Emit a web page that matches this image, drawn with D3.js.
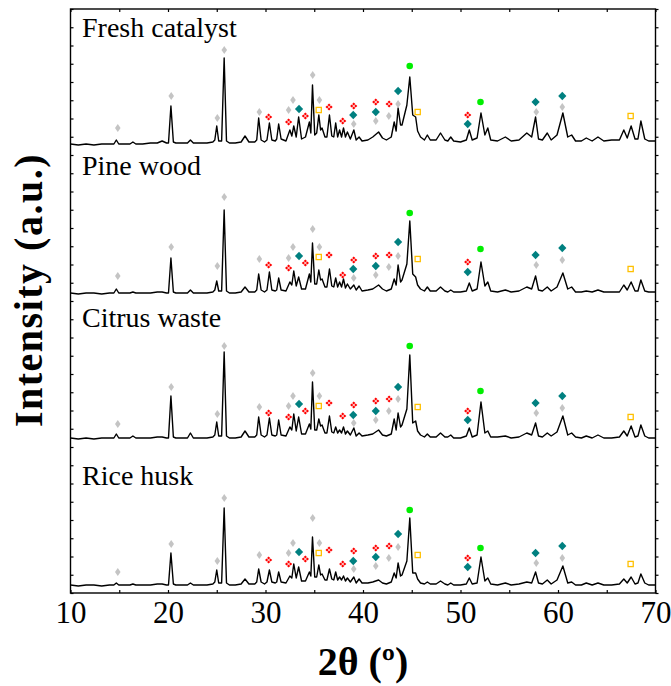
<!DOCTYPE html>
<html>
<head>
<meta charset="utf-8">
<script src="https://cdn.jsdelivr.net/npm/d3@7"></script>
<style>
  body { margin: 0; background: #fff; }
  svg { display: block; font-family: "Liberation Serif", "Times New Roman", serif; }
</style>
</head>
<body>
<svg class="display"></svg>
<script>
// 2θ grid (degrees) shared by the four patterns
const twoTheta = [
  10.0, 10.8, 11.6, 12.4, 13.2, 14.0, 14.45, 14.7, 14.95, 15.6,
  16.1, 16.4, 16.7, 17.4, 18.2, 18.9, 19.4, 19.85, 20.05, 20.3,
  20.55, 20.8, 21.5, 22.0, 22.3, 22.6, 23.3, 24.0, 24.6, 24.8,
  25.0, 25.2, 25.5, 25.76, 26.0, 26.3, 26.9, 27.5, 27.9, 28.3,
  28.9, 29.1, 29.3, 29.55, 29.9, 30.15, 30.4, 30.65, 31.0, 31.15,
  31.35, 31.6, 32.1, 32.5, 32.7, 32.9, 33.15, 33.4, 33.7, 34.1,
  34.5, 34.65, 34.82, 35.05, 35.25, 35.47, 35.65, 35.8, 36.1, 36.3,
  36.56, 36.8, 37.0, 37.2, 37.4, 37.6, 37.8, 38.0, 38.2, 38.4,
  38.7, 39.06, 39.3, 39.6, 39.9, 40.5, 41.0, 41.6, 42.0, 42.4,
  42.9, 43.2, 43.4, 43.6, 43.85, 44.0, 44.5, 44.8, 45.1, 45.4,
  45.6, 45.9, 46.3, 46.6, 46.9, 47.5, 47.95, 48.4, 48.7, 49.0,
  49.3, 50.0, 50.6, 50.9, 51.2, 51.7, 52.1, 52.5, 52.8, 53.1,
  53.8, 54.6, 55.2, 56.0, 56.8, 57.3, 57.7, 58.0, 58.4, 58.9,
  59.3, 59.9, 60.5, 61.0, 61.4, 61.8, 62.4, 62.9, 63.5, 64.1,
  64.7, 65.5, 66.3, 66.75, 67.1, 67.5, 67.9, 68.2, 68.5, 68.9,
  69.3, 70.0
];

const fresh = [
  1, 0, 1, 0, 1, 1, 1, 5, 1, 1,
  1, 3, 1, 1, 2, 2, 4, 2, 2, 39,
  3, 2, 2, 2, 5, 2, 2, 2, 3, 5,
  19, 4, 4, 87, 4, 2, 2, 3, 9, 3,
  3, 5, 27, 5, 3, 5, 22, 5, 4, 6,
  21, 6, 4, 15, 9, 19, 8, 28, 6, 8,
  23, 12, 60, 10, 12, 30, 15, 17, 8, 8,
  30, 9, 8, 22, 8, 15, 8, 17, 8, 13,
  6, 15, 5, 8, 4, 5, 8, 13, 7, 5,
  8, 23, 14, 37, 20, 20, 40, 68, 30, 28,
  14, 8, 5, 10, 5, 5, 12, 5, 4, 8,
  4, 3, 5, 15, 5, 7, 32, 10, 17, 5,
  4, 8, 4, 5, 12, 8, 28, 6, 5, 12,
  5, 10, 32, 8, 10, 4, 4, 7, 4, 8,
  4, 5, 5, 15, 7, 19, 6, 6, 24, 6,
  4, 4
];

const pine = [
  1, 0, 1, 1, 0, 1, 1, 5, 1, 1,
  1, 2, 1, 1, 1, 2, 2, 1, 1, 36,
  2, 1, 1, 1, 4, 1, 1, 1, 2, 4,
  13, 3, 3, 84, 3, 1, 1, 2, 7, 2,
  2, 4, 20, 4, 2, 4, 22, 4, 3, 4,
  16, 4, 3, 12, 9, 23, 8, 17, 5, 5,
  20, 12, 51, 10, 10, 24, 14, 15, 7, 7,
  25, 8, 7, 16, 7, 12, 7, 15, 6, 10,
  5, 9, 4, 8, 3, 4, 5, 9, 5, 3,
  5, 15, 9, 29, 12, 14, 30, 73, 20, 17,
  9, 5, 3, 7, 3, 3, 7, 3, 2, 4,
  2, 2, 3, 11, 3, 5, 32, 8, 12, 3,
  2, 4, 2, 3, 7, 5, 18, 4, 3, 7,
  3, 7, 21, 5, 7, 2, 2, 3, 2, 4,
  2, 2, 2, 9, 4, 12, 3, 3, 14, 3,
  2, 2
];

const citrus = [
  1, 0, 1, 0, 1, 1, 1, 5, 1, 1,
  1, 3, 1, 1, 1, 2, 2, 1, 1, 43,
  2, 1, 1, 1, 6, 1, 1, 1, 2, 4,
  17, 3, 3, 87, 3, 1, 1, 2, 8, 2,
  2, 4, 22, 4, 2, 4, 21, 4, 3, 4,
  19, 4, 3, 12, 9, 25, 8, 22, 5, 5,
  15, 10, 57, 9, 9, 20, 13, 14, 6, 6,
  23, 7, 6, 12, 6, 9, 6, 12, 5, 8,
  4, 11, 3, 6, 3, 4, 5, 9, 4, 3,
  5, 20, 9, 26, 12, 14, 30, 84, 16, 18,
  8, 4, 2, 5, 2, 2, 6, 2, 2, 4,
  1, 1, 3, 11, 2, 4, 37, 6, 8, 2,
  2, 3, 1, 2, 6, 4, 16, 3, 2, 6,
  3, 7, 23, 4, 6, 2, 1, 3, 1, 4,
  1, 1, 2, 8, 3, 13, 2, 3, 14, 3,
  1, 1
];

const rice = [
  1, 0, 1, 1, 0, 1, 1, 3, 1, 1,
  1, 2, 1, 1, 1, 2, 2, 1, 1, 33,
  2, 1, 1, 1, 3, 1, 1, 1, 2, 4,
  16, 3, 3, 78, 3, 1, 1, 2, 7, 2,
  2, 4, 17, 4, 2, 4, 16, 4, 3, 4,
  14, 4, 3, 10, 8, 22, 8, 19, 5, 5,
  14, 10, 49, 9, 9, 21, 11, 12, 6, 6,
  17, 7, 6, 14, 6, 9, 6, 10, 5, 8,
  4, 9, 3, 7, 3, 3, 4, 6, 3, 2,
  4, 13, 8, 23, 10, 11, 25, 68, 13, 13,
  7, 3, 2, 4, 2, 2, 5, 2, 1, 3,
  1, 1, 2, 8, 2, 3, 29, 5, 8, 2,
  1, 3, 1, 2, 4, 3, 14, 3, 2, 6,
  2, 6, 20, 3, 4, 1, 1, 3, 1, 3,
  1, 1, 2, 7, 3, 9, 2, 3, 12, 3,
  1, 1
];

const samples = ['Fresh catalyst', 'Pine wood', 'Citrus waste', 'Rice husk'];
const series = [fresh, pine, citrus, rice];
const offsets = [448, 299, 154, 7];

// phase markers: 2θ positions and height above each pattern's baseline
const grayPos = [14.85, 20.33, 25.06, 25.77, 29.37, 32.37, 32.82, 34.84, 35.53, 39.05, 41.31, 42.65, 43.6, 57.77, 60.44];
const grayLevel = [
  [17, 49, 27, 95, 33, 35, 45, 70, 45, 21, 24, 29, 41, 33, 38],
  [18, 47, 28, 97, 35, 36, 47, 65, 47, 16, 19, 27, 38, 29, 34],
  [15, 52, 25, 93, 32, 33, 43, 66, 43, 16, 19, 28, 40, 26, 31],
  [14, 42, 25, 88, 31, 33, 43, 68, 43, 17, 20, 28, 39, 23, 28]
];
const tealPos = [33.44, 39.0, 41.31, 43.6, 50.74, 57.7, 60.44];
const tealLevel = [
  [36, 30, 33, 54, 21, 43, 49],
  [38, 25, 28, 52, 22, 39, 46],
  [35, 24, 28, 52, 19, 36, 43],
  [34, 25, 29, 52, 19, 33, 40]
];
const redPos = [30.32, 32.37, 34.09, 36.52, 37.92, 39.05, 41.31, 42.68, 50.74];
const redLevel = [
  [28, 23, 29, 38, 24, 39, 43, 41, 30],
  [29, 26, 31, 39, 19, 34, 38, 39, 32],
  [26, 22, 28, 36, 23, 34, 38, 40, 28],
  [26, 22, 27, 36, 22, 35, 38, 40, 28]
];
const yellowPos = [35.46, 45.61, 67.45];
const yellowLevel = [
  [35, 33, 29],
  [37, 35, 25],
  [33, 32, 22],
  [33, 31, 22]
];
const greenPos = [44.79, 52.05];
const greenLevel = [
  [79, 43],
  [81, 45],
  [93, 48],
  [76, 38]
];

const yTicks = d3.range(0, 584.1, 18.25);
const xTicks = d3.range(10, 71, 5);

const width = 671;
const height = 686;
const margin = { left: 70.5, right: 15.5, top: 9, bottom: 93 };
const serif = '"Liberation Serif", "Times New Roman", serif';

const svg = d3.select('.display')
  .attr('width', width)
  .attr('height', height);

const x = d3.scaleLinear().domain([10, 70]).range([margin.left, width - margin.right]);
const y = d3.scaleLinear().domain([0, 584]).range([height - margin.bottom, margin.top]);

// axes, ticks point into the frame
svg.append('g')
  .attr('transform', 'translate(' + margin.left + ',0)')
  .call(d3.axisLeft(y).tickValues(yTicks).tickSize(-3).tickFormat(''));
svg.append('g')
  .attr('transform', 'translate(' + (width - margin.right) + ',0)')
  .call(d3.axisRight(y).tickValues(yTicks).tickSize(3).tickFormat(''));
svg.append('g')
  .attr('transform', 'translate(0,' + margin.top + ')')
  .call(d3.axisTop(x).tickValues(xTicks).tickSize(-3).tickFormat(''));
svg.append('g')
  .attr('transform', 'translate(0,' + (height - margin.bottom) + ')')
  .call(d3.axisBottom(x).tickValues(xTicks).tickSize(-3).tickPadding(8)
    .tickFormat(d => d % 10 === 0 ? d : ''))
  .attr('font-family', serif)
  .attr('font-size', 31);

svg.selectAll('.domain').remove();
svg.selectAll('.tick line').attr('stroke', '#000').attr('stroke-width', 1.2);
svg.selectAll('.tick text').attr('fill', '#000');

svg.append('rect')
  .attr('x', margin.left)
  .attr('y', margin.top)
  .attr('width', width - margin.left - margin.right)
  .attr('height', height - margin.top - margin.bottom)
  .attr('fill', 'none')
  .attr('stroke', '#000')
  .attr('stroke-width', 1.4);

// patterns
series.forEach((s, k) => {
  const line = d3.line()
    .x((d, i) => x(twoTheta[i]))
    .y(d => y(offsets[k] + d));
  svg.append('path')
    .datum(s)
    .attr('d', line)
    .attr('fill', 'none')
    .attr('stroke', '#000')
    .attr('stroke-width', 1.4)
    .attr('stroke-linejoin', 'round');
});

// marker shapes
const grayPath = 'M0,-4L2.8,0L0,4L-2.8,0Z';
const tealPath = 'M0,-4.3L4.1,0L0,4.3L-4.1,0Z';
const redPath = [[0, -2], [2, 0], [0, 2], [-2, 0]]
  .map(p => 'M' + p[0] + ',' + (p[1] - 1.6) + 'L' + (p[0] + 1.6) + ',' + p[1] + 'L' + p[0] + ',' + (p[1] + 1.6) + 'L' + (p[0] - 1.6) + ',' + p[1] + 'Z')
  .join('');

function markers(pos, levels, draw) {
  levels.forEach((lv, k) => {
    const g = svg.append('g');
    g.selectAll('.m')
      .data(pos.map((p, i) => [p, lv[i]]))
      .enter()
      .call(sel => draw(sel, d => x(d[0]), d => y(offsets[k] + d[1])));
  });
}

markers(grayPos, grayLevel, (sel, fx, fy) => sel.append('path')
  .attr('d', grayPath)
  .attr('transform', d => 'translate(' + fx(d) + ',' + fy(d) + ')')
  .attr('fill', '#c4c4c4'));

markers(tealPos, tealLevel, (sel, fx, fy) => sel.append('path')
  .attr('d', tealPath)
  .attr('transform', d => 'translate(' + fx(d) + ',' + fy(d) + ')')
  .attr('fill', '#008080'));

markers(redPos, redLevel, (sel, fx, fy) => sel.append('path')
  .attr('d', redPath)
  .attr('transform', d => 'translate(' + fx(d) + ',' + fy(d) + ')')
  .attr('fill', '#ff0000'));

markers(yellowPos, yellowLevel, (sel, fx, fy) => sel.append('rect')
  .attr('x', d => fx(d) - 2.6)
  .attr('y', d => fy(d) - 2.6)
  .attr('width', 5.2)
  .attr('height', 5.2)
  .attr('fill', '#fff')
  .attr('stroke', '#ffc000')
  .attr('stroke-width', 1.3));

markers(greenPos, greenLevel, (sel, fx, fy) => sel.append('circle')
  .attr('cx', fx)
  .attr('cy', fy)
  .attr('r', 3.3)
  .attr('fill', '#00ee00'));

// sample names
const labelY = [36.5, 175, 326.5, 485];
svg.selectAll('.name')
  .data(samples)
  .enter().append('text')
  .attr('class', 'name')
  .attr('x', 82)
  .attr('y', (d, i) => labelY[i])
  .attr('font-family', serif)
  .attr('font-size', 28)
  .text(d => d);

// axis titles
svg.append('text')
  .attr('transform', 'translate(363,675)')
  .attr('text-anchor', 'middle')
  .attr('font-family', serif)
  .attr('font-size', 40)
  .attr('font-weight', 'bold')
  .text('2θ (º)');

svg.append('text')
  .attr('transform', 'translate(42,290) rotate(-90)')
  .attr('text-anchor', 'middle')
  .attr('font-family', serif)
  .attr('font-size', 40)
  .attr('font-weight', 'bold')
  .attr('letter-spacing', 1.5)
  .text('Intensity (a.u.)');
</script>
</body>
</html>
